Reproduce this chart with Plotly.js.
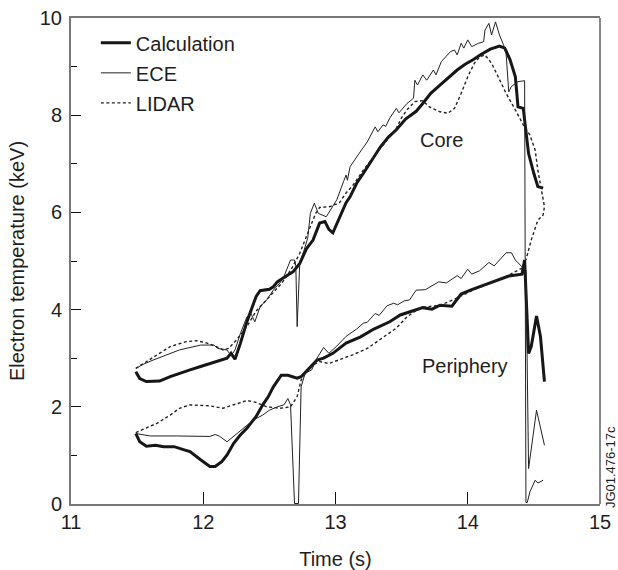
<!DOCTYPE html>
<html>
<head>
<meta charset="utf-8">
<script src="https://cdn.plot.ly/plotly-3.0.1.min.js"></script>
<style>html,body{margin:0;padding:0;background:#fff;}#chart{width:618px;height:570px;}</style>
</head>
<body>
<div id="chart"></div>
<script>
// Core – Calculation
const coreCalcX = [11.49,11.52,11.57,11.67,11.75,11.82,11.90,11.98,12.05,12.13,12.18,12.21,12.24,12.28,12.33,12.37,12.40,12.43,12.50,12.53,12.56,12.61,12.68,12.73,12.78,12.83,12.88,12.92,12.95,12.98,13.03,13.08,13.11,13.16,13.21,13.27,13.34,13.40,13.46,13.53,13.61,13.66,13.72,13.79,13.86,13.92,13.98,14.04,14.10,14.17,14.24,14.28,14.32,14.36,14.38,14.42,14.43,14.46,14.50,14.53,14.57];
const coreCalcY = [2.72,2.58,2.52,2.53,2.62,2.69,2.76,2.83,2.89,2.96,3.00,3.10,2.98,3.30,3.75,4.05,4.27,4.39,4.42,4.47,4.57,4.66,4.78,4.95,5.25,5.43,5.78,5.81,5.65,5.58,5.91,6.20,6.32,6.60,6.80,7.05,7.35,7.55,7.70,7.92,8.08,8.24,8.45,8.62,8.79,8.93,9.05,9.14,9.25,9.36,9.42,9.38,9.14,8.79,8.17,8.14,7.90,7.21,6.80,6.53,6.50];
// Core – ECE
const coreEceX = [11.49,11.55,11.62,11.72,11.82,11.90,11.98,12.08,12.11,12.18,12.21,12.24,12.28,12.33,12.36,12.39,12.43,12.48,12.53,12.58,12.61,12.66,12.69,12.70,12.71,12.73,12.76,12.79,12.81,12.84,12.87,12.93,13.01,13.06,13.08,13.09,13.11,13.18,13.24,13.30,13.32,13.36,13.38,13.41,13.46,13.48,13.54,13.59,13.60,13.62,13.66,13.69,13.74,13.76,13.80,13.87,13.90,13.92,13.95,13.97,14.00,14.03,14.08,14.12,14.13,14.16,14.18,14.21,14.24,14.27,14.29,14.31,14.33,14.38,14.43,14.44,14.45,14.47,14.51,14.53,14.57];
const coreEceY = [2.79,2.88,2.96,3.07,3.17,3.22,3.27,3.27,3.20,3.17,3.05,3.17,3.50,3.85,3.92,3.75,4.06,4.20,4.40,4.55,4.68,5.02,5.02,4.90,3.65,4.98,5.20,5.47,5.98,6.19,5.98,5.91,6.26,6.63,6.77,6.66,6.94,7.22,7.45,7.76,7.66,7.80,7.77,7.94,8.14,8.05,8.24,8.35,8.72,8.62,8.83,8.72,8.93,8.83,9.10,9.31,9.34,9.24,9.48,9.38,9.55,9.41,9.48,9.51,9.75,9.89,9.65,9.92,9.65,9.45,9.27,8.48,8.59,8.69,8.71,0.03,0.03,0.25,0.49,0.43,0.49];
// Core – LIDAR
const coreLidarX = [11.49,11.57,11.65,11.75,11.87,11.95,12.03,12.10,12.15,12.19,12.25,12.33,12.40,12.48,12.53,12.58,12.63,12.68,12.73,12.77,12.81,12.85,12.88,12.96,13.03,13.08,13.13,13.21,13.31,13.41,13.46,13.50,13.54,13.60,13.66,13.71,13.79,13.85,13.90,13.95,14.00,14.05,14.09,14.13,14.18,14.23,14.29,14.36,14.42,14.47,14.51,14.53,14.56,14.58,14.57,14.53,14.48,14.44];
const coreLidarY = [2.79,2.93,3.07,3.24,3.34,3.36,3.31,3.24,3.17,3.20,3.37,3.65,3.97,4.20,4.34,4.50,4.68,4.90,5.16,5.45,5.71,5.98,6.10,6.12,6.20,6.40,6.55,6.87,7.22,7.56,7.73,7.95,8.11,8.28,8.30,8.17,8.07,8.04,8.14,8.45,8.79,9.07,9.20,9.24,9.07,8.79,8.45,8.11,7.80,7.59,7.28,6.87,6.43,6.12,5.95,5.84,5.43,5.02];
// Periphery – Calculation
const perCalcX = [11.49,11.52,11.57,11.64,11.70,11.78,11.85,11.90,11.98,12.05,12.09,12.14,12.18,12.23,12.28,12.33,12.40,12.45,12.49,12.53,12.59,12.64,12.71,12.74,12.79,12.86,12.91,12.98,13.08,13.19,13.29,13.41,13.49,13.58,13.66,13.73,13.79,13.88,13.95,14.02,14.09,14.17,14.24,14.31,14.41,14.43,14.46,14.48,14.52,14.55,14.58];
const perCalcY = [1.45,1.28,1.19,1.21,1.18,1.18,1.12,1.08,0.91,0.77,0.77,0.87,1.01,1.25,1.42,1.56,1.80,2.04,2.20,2.41,2.65,2.65,2.59,2.62,2.76,2.96,3.00,3.10,3.31,3.44,3.60,3.75,3.89,3.97,4.04,4.01,4.09,4.07,4.32,4.40,4.47,4.55,4.62,4.69,4.73,5.02,3.10,3.24,3.87,3.44,2.52];
// Periphery – ECE
const perEceX = [11.49,11.60,11.80,12.05,12.09,12.12,12.18,12.24,12.30,12.38,12.45,12.50,12.56,12.61,12.64,12.66,12.69,12.72,12.74,12.77,12.82,12.86,12.91,12.95,13.01,13.08,13.16,13.21,13.24,13.30,13.33,13.39,13.44,13.47,13.52,13.56,13.61,13.68,13.78,13.84,13.92,13.95,14.00,14.03,14.09,14.16,14.20,14.24,14.29,14.33,14.36,14.41,14.44,14.46,14.52,14.58];
const perEceY = [1.45,1.40,1.40,1.39,1.43,1.40,1.28,1.42,1.56,1.73,1.83,1.93,2.00,2.04,2.17,2.04,0.01,0.01,2.41,2.69,2.76,3.00,3.22,3.10,3.25,3.45,3.60,3.72,3.74,3.92,3.88,4.08,4.13,4.10,4.18,4.20,4.40,4.41,4.57,4.55,4.70,4.64,4.83,4.73,4.80,4.97,4.90,5.02,5.17,5.17,5.02,4.88,4.81,0.73,1.93,1.21];
// Periphery – LIDAR
const perLidarX = [11.49,11.57,11.65,11.75,11.82,11.90,12.05,12.15,12.23,12.33,12.40,12.48,12.58,12.66,12.71,12.74,12.78,12.83,12.88,12.95,13.06,13.13,13.24,13.36,13.46,13.54,13.64,13.79,13.89,14.04,14.19,14.29,14.38,14.43];
const perLidarY = [1.47,1.56,1.66,1.83,1.97,2.04,2.02,1.97,2.04,2.13,2.09,2.00,1.97,2.00,2.21,2.55,2.72,2.86,2.93,2.89,3.00,3.07,3.20,3.42,3.62,3.85,4.04,4.09,4.20,4.40,4.57,4.68,4.81,4.88];

const seriesNames = ['Calculation','ECE','LIDAR'];
const xTicks = [11,12,13,14,15];
const yTicks = [0,2,4,6,8,10];

const FONT = 'Liberation Sans, Arial, Helvetica, sans-serif';
const INK = '#1e1e1e';
const FS = 20;
const styles = {
  Calculation: {color:'#161616', width:3},
  ECE: {color:'#222', width:1},
  LIDAR: {color:'#222', width:1.4, dash:'3px,2.5px'}
};
function tr(x, y, name, show){
  return {x:x, y:y, type:'scatter', mode:'lines', name:name, legendgroup:name,
          showlegend:show, line:Object.assign({}, styles[name]), hoverinfo:'skip'};
}
const data = [
  tr(coreCalcX, coreCalcY, seriesNames[0], true),
  tr(coreEceX, coreEceY, seriesNames[1], true),
  tr(coreLidarX, coreLidarY, seriesNames[2], true),
  tr(perCalcX, perCalcY, seriesNames[0], false),
  tr(perEceX, perEceY, seriesNames[1], false),
  tr(perLidarX, perLidarY, seriesNames[2], false)
];
const layout = {
  width:618, height:570,
  margin:{l:71, r:18, t:18, b:66},
  paper_bgcolor:'#fff', plot_bgcolor:'#fff',
  font:{family:FONT, size:FS, color:INK},
  showlegend:true,
  legend:{x:0.047, xanchor:'left', y:0.989, yanchor:'top', bgcolor:'rgba(0,0,0,0)',
          borderwidth:0, tracegroupgap:1, font:{family:FONT, size:FS, color:INK}},
  xaxis:{range:[11,15], tickvals:xTicks, ticktext:xTicks.map(String),
         ticks:'inside', ticklen:12, tickwidth:1, tickcolor:'#111',
         ticklabelstandoff:-1,
         showline:true, linecolor:'#777', linewidth:2, mirror:true,
         showgrid:false, zeroline:false, fixedrange:true,
         tickfont:{family:FONT, size:FS, color:INK},
         title:{text:'Time (s)', standoff:20, font:{family:FONT, size:FS, color:INK}}},
  yaxis:{range:[0,10], tickvals:yTicks, ticktext:yTicks.map(String),
         ticks:'inside', ticklen:10, tickwidth:1, tickcolor:'#111',
         ticklabelstandoff:3,
         minor:{tickvals:[1,3,5,7,9], ticks:'inside', ticklen:6, tickwidth:1, tickcolor:'#111', showgrid:false},
         showline:true, linecolor:'#777', linewidth:2, mirror:false,
         showgrid:false, zeroline:false, fixedrange:true,
         tickfont:{family:FONT, size:FS, color:INK},
         title:{text:'Electron temperature (keV)', standoff:10, font:{family:FONT, size:FS, color:INK}}},
  shapes:[{type:'line', xref:'paper', yref:'paper', x0:1, x1:1, y0:0, y1:1, line:{color:'#111', width:1}}],
  annotations:[
    {text:'Core', x:13.80, y:7.5, xref:'x', yref:'y', showarrow:false, font:{family:FONT, size:FS, color:INK}},
    {text:'Periphery', x:13.98, y:2.83, xref:'x', yref:'y', showarrow:false, font:{family:FONT, size:FS, color:INK}},
    {text:'JG01.476-17c', x:1.019, xref:'paper', xanchor:'center', y:0.076, yref:'paper', yanchor:'middle',
     textangle:-90, showarrow:false, font:{family:FONT, size:13, color:INK}}
  ]
};
Plotly.newPlot('chart', data, layout, {displayModeBar:false, staticPlot:true});
</script>
</body>
</html>
